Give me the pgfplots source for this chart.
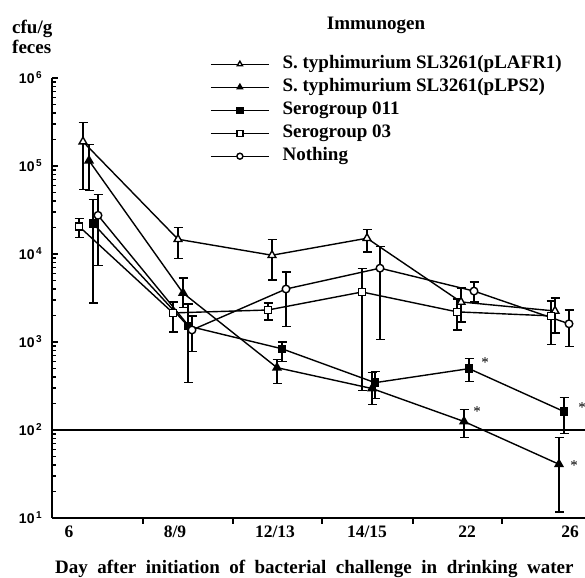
\documentclass[border=0pt]{standalone}
\usepackage{fontspec}
\setmainfont{Liberation Serif}
\newfontfamily\hel{Liberation Sans}
\usepackage{pgfplots}
\usepackage{pgfplotstable}
\pgfplotsset{compat=1.18}

% x = position along the day axis (drawn scale), y = cfu/g, ep/em = error up/down
\pgfplotstableread{
x y ep em
83 189000 121000 134900
178 14700 5400 5750
272 9680 5020 4620
367 15100 4000 4600
461 2850 1250 1160
555 2250 910 980
}\tabA
\pgfplotstableread{
x y ep em
89 115000 60000 62300
183 3610 1710 1160
277 511 119 174
372 296 154 101
464 125 46 43
559 40.8 41.2 29.1
}\tabB
\pgfplotstableread{
x y ep em
93 22300 19400 19530
188 1520 1190 1175
282 837 163 240
375 345 115 117
469 498 148 143
564 162 72 70.5
}\tabC
\pgfplotstableread{
x y ep em
79 20600 4800 5100
173 2140 710 840
268 2310 460 530
362 3700 3200 3419
457 2200 880 830
551 1980 940 1051
}\tabD
\pgfplotstableread{
x y ep em
98 27500 19900 20040
192 1370 610 596
286 4000 2220 2510
380 6900 5300 5840
474 3790 1010 940
569 1610 700 727
}\tabE

\newcommand{\yl}[1]{{\hel\bfseries\fontsize{14}{14}\selectfont 10\raisebox{5pt}{\fontsize{10}{10}\selectfont\,#1}}}

\pgfplotsset{
  series/.style={black, line width=1.4pt,
    error bars/y dir=both, error bars/y explicit,
    error bars/error bar style={line width=1.3pt, solid},
    error bars/error mark options={rotate=90, mark size=4.5pt, line width=1.3pt}},
  legend image code/.code={\draw[mark repeat=2,mark phase=2,#1,mark size=3pt]
    plot coordinates {(0pt,0pt) (29pt,0pt) (58pt,0pt)};},
}

\begin{document}
\begin{tikzpicture}[x=1pt,y=1pt]
\useasboundingbox (0,0) rectangle (585,577);
\begin{axis}[
  at={(52pt,59pt)}, anchor=south west,
  scale only axis, width=533pt, height=440pt,
  xmin=52, xmax=585, ymode=log, ymin=10, ymax=1e6,
  clip=false,
  axis x line*=bottom, axis y line*=left,
  axis line style={line width=1.5pt, -},
  xtick={143,233,322,413,502}, xticklabels={},
  xtick align=outside, ytick align=inside,
  major tick length=6pt, minor tick length=3.5pt,
  every tick/.style={black, line width=1.2pt},
  extra x ticks={69,175,275,367,467,570},
  extra x tick labels={6,8/9,12/13,14/15,22,26},
  extra x tick style={major tick length=0pt,
    tick label style={font=\fontsize{17.5}{17.5}\selectfont\bfseries, yshift=-4pt}},
  ytick={10,100,1000,10000,100000,1000000},
  yticklabels={\yl{1},\yl{2},\yl{3},\yl{4},\yl{5},\yl{6}},
  yticklabel style={inner sep=0pt, xshift=-10pt},
  legend style={at={(0.2908,1.0545)}, anchor=north west, draw=none, fill=none,
    font=\fontsize{19}{19}\selectfont\bfseries, legend cell align=left,
    row sep=7pt, column sep=13pt,
    nodes={inner sep=0pt, text height=12pt, text depth=4pt}},
]
\addplot[forget plot, black, line width=1.5pt] coordinates {(52,100) (585,100)};

\addplot[series, mark=triangle*, mark size=4.5pt, mark options={fill=white, solid}]
  table[x=x, y=y, y error plus=ep, y error minus=em] {\tabA};
\addlegendentry{S. typhimurium SL3261(pLAFR1)}
\addplot[series, mark=triangle*, mark size=4.5pt, mark options={fill=black, solid}]
  table[x=x, y=y, y error plus=ep, y error minus=em] {\tabB};
\addlegendentry{S. typhimurium SL3261(pLPS2)}
\addplot[series, mark=square*, mark size=3.5pt, mark options={fill=black, solid}]
  table[x=x, y=y, y error plus=ep, y error minus=em] {\tabC};
\addlegendentry{Serogroup 011}
\addplot[series, mark=square*, mark size=3.5pt, mark options={fill=white, solid}]
  table[x=x, y=y, y error plus=ep, y error minus=em] {\tabD};
\addlegendentry{Serogroup 03}
\addplot[series, mark=*, mark size=3.8pt, mark options={fill=white, solid}]
  table[x=x, y=y, y error plus=ep, y error minus=em] {\tabE};
\addlegendentry{Nothing}

\node[font=\fontsize{15}{15}\selectfont] at (axis cs:485,590) {*};
\node[font=\fontsize{15}{15}\selectfont] at (axis cs:477,160) {*};
\node[font=\fontsize{15}{15}\selectfont] at (axis cs:582,182) {*};
\node[font=\fontsize{15}{15}\selectfont] at (axis cs:574,39) {*};

\node[anchor=base west, inner sep=0pt, font=\fontsize{19}{19}\selectfont\bfseries]
  at (rel axis cs:0.0056,-0.125) {Day\ \ after\ \ initiation\ \ of\ \ bacterial\ \ challenge\ \ in\ \ drinking\ \ water};
\end{axis}
\node[anchor=west, inner sep=0pt, font=\fontsize{19}{19}\selectfont\bfseries] at (12,548) {cfu/g};
\node[anchor=west, inner sep=0pt, font=\fontsize{19}{19}\selectfont\bfseries] at (12,530) {feces};
\node[inner sep=0pt, font=\fontsize{19}{19}\selectfont\bfseries] at (376,552) {Immunogen};
\end{tikzpicture}
\end{document}
